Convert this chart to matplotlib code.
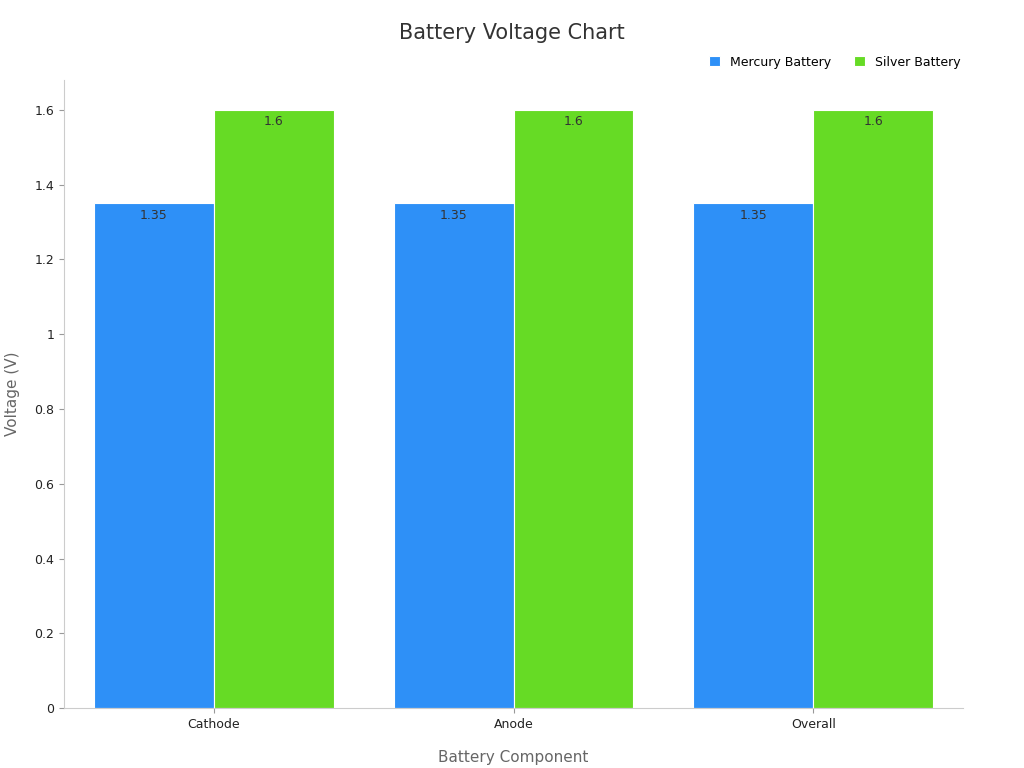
import numpy as np
import matplotlib.pyplot as plt
from matplotlib.ticker import FuncFormatter

CATEGORIES = ["Cathode", "Anode", "Overall"]
MERCURY = [1.35, 1.35, 1.35]
SILVER = [1.6, 1.6, 1.6]

BLUE = "#2E90F7"
GREEN = "#66DB25"

fig = plt.figure(figsize=(10.24, 7.68), dpi=100)
ax = fig.add_axes([0.0625, 0.078, 0.878, 0.818])

x = np.arange(len(CATEGORIES))
w = 0.4
b1 = ax.bar(x - w / 2, MERCURY, w, color=BLUE, edgecolor="white", lw=0.8,
            label="Mercury Battery")
b2 = ax.bar(x + w / 2, SILVER, w, color=GREEN, edgecolor="white", lw=0.8,
            label="Silver Battery")
for bars, vals in ((b1, MERCURY), (b2, SILVER)):
    for r, v in zip(bars, vals):
        ax.text(r.get_x() + r.get_width() / 2, v - 0.015, f"{v:g}",
                ha="center", va="top", fontsize=9, color="#333333")

ax.set_xlim(-0.5, 2.5)
ax.set_ylim(0, 1.68)
ax.set_xticks(x)
ax.set_xticklabels(CATEGORIES, fontsize=9, color="#222222")
ax.set_yticks(np.arange(0, 1.61, 0.2))
ax.yaxis.set_major_formatter(FuncFormatter(lambda v, p: f"{v:.1f}".rstrip("0").rstrip(".")))
ax.tick_params(axis="y", labelsize=9, colors="#222222")
ax.tick_params(color="#999999")
for s in ("top", "right"):
    ax.spines[s].set_visible(False)
for s in ("left", "bottom"):
    ax.spines[s].set_color("#cccccc")

ax.set_xlabel("Battery Component", fontsize=11, color="#666666", labelpad=14)
ax.set_ylabel("Voltage (V)", fontsize=11, color="#666666", labelpad=10)
fig.text(0.5, 0.957, "Battery Voltage Chart", ha="center", va="center",
         fontsize=15, color="#333333")
ax.legend(loc="lower right", bbox_to_anchor=(1.01, 1.0), ncol=2, frameon=False,
          fontsize=9, handlelength=0.9, handleheight=0.9, columnspacing=1.8)

fig.savefig("out.png", dpi=100)
